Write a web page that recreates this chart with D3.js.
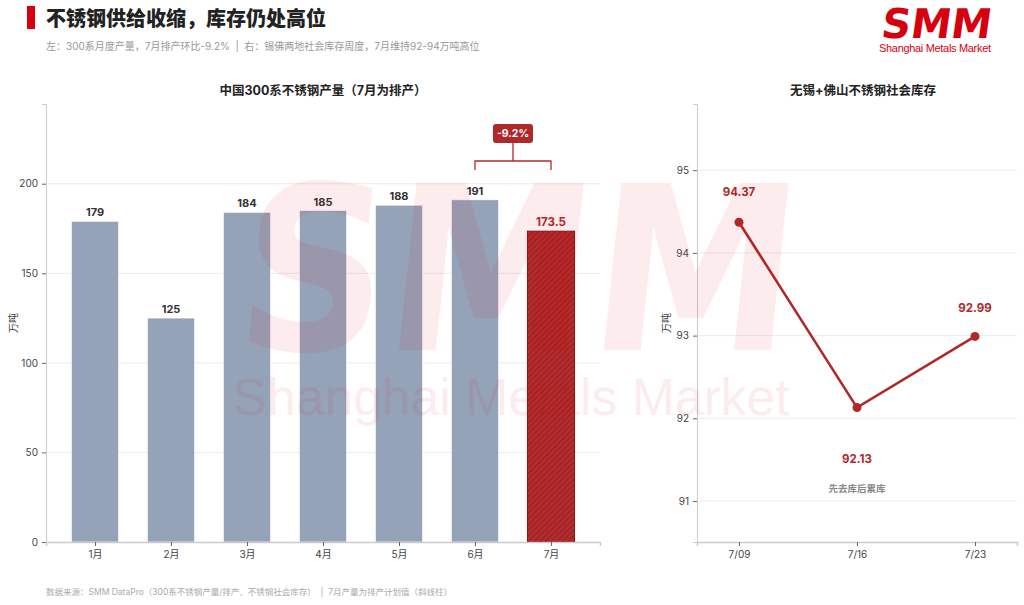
<!doctype html>
<html lang="zh">
  <head>
    <meta charset="UTF-8" />
    <title>不锈钢供给收缩，库存仍处高位</title>
    <script src="https://d3js.org/d3.v7.min.js"></script>
    <style>
      body {
        margin: 0;
        padding: 0;
        background: #ffffff;
        font-family: 'Inter', 'Noto Sans CJK SC', sans-serif;
      }
      svg text {
        font-family: 'Inter', 'Noto Sans CJK SC', sans-serif;
        white-space: pre;
      }
      .tick text {
        fill: #444;
        font-size: 10px;
      }
    </style>
  </head>
  <body>
    <div id="chart"></div>
    <script>
      // left panel: monthly 300-series output (10k t)
      const months = ['1月', '2月', '3月', '4月', '5月', '6月', '7月']
      const output = [179, 125, 184, 185, 188, 191, 173.5]
      const outputTicks = [0, 50, 100, 150, 200]

      // right panel: Wuxi + Foshan social inventory (10k t)
      const weeks = ['7/09', '7/16', '7/23']
      const inventory = [94.37, 92.13, 92.99]
      const inventoryTicks = [91, 92, 93, 94, 95]

      const W = 1024
      const H = 605
      const red = '#B0282A'

      const svg = d3.select('#chart').append('svg').attr('width', W).attr('height', H)

      const defs = svg.append('defs')
      const hatch = defs
        .append('pattern')
        .attr('id', 'hatch')
        .attr('patternUnits', 'userSpaceOnUse')
        .attr('width', 4)
        .attr('height', 4)
        .attr('patternTransform', 'rotate(45)')
      hatch.append('rect').attr('width', 4).attr('height', 4).attr('fill', '#B32B2C')
      hatch
        .append('line')
        .attr('x1', 0)
        .attr('y1', 0)
        .attr('x2', 0)
        .attr('y2', 4)
        .attr('stroke', '#7a1616')
        .attr('stroke-width', 1)

      // header
      svg.append('rect').attr('x', 27).attr('y', 6).attr('width', 8).attr('height', 23).attr('fill', '#D7000F')
      svg
        .append('text')
        .attr('x', 46)
        .attr('y', 26)
        .attr('font-size', 20)
        .attr('font-weight', 900)
        .attr('fill', '#222')
        .text('不锈钢供给收缩，库存仍处高位')
      svg
        .append('text')
        .attr('x', 46)
        .attr('y', 50)
        .attr('font-size', 10)
        .attr('fill', '#999')
        .text('左：300系月度产量，7月排产环比-9.2%  |  右：锡佛两地社会库存周度，7月维持92-94万吨高位')

      // logo
      svg
        .append('text')
        .attr('x', 935)
        .attr('y', 38)
        .attr('text-anchor', 'middle')
        .attr('font-size', 41)
        .attr('font-weight', 900)
        .attr('fill', '#D7000F')
        .attr('textLength', 110)
        .attr('lengthAdjust', 'spacingAndGlyphs')
        .attr('transform', 'translate(935,38) skewX(-8) translate(-935,-38)')
        .style('font-family', "'DejaVu Sans', sans-serif")
        .text('SMM')
      svg
        .append('text')
        .attr('x', 935)
        .attr('y', 52)
        .attr('text-anchor', 'middle')
        .attr('font-size', 11)
        .attr('fill', '#D7000F')
        .attr('textLength', 112)
        .style('font-family', "'Liberation Sans', sans-serif")
        .text('Shanghai Metals Market')

      // ---------- left: bar chart ----------
      const L = { left: 46, right: 600, top: 104, bottom: 542 }
      const xBar = d3.scaleLinear().domain([-0.645, 6.645]).range([L.left, L.right])
      const yBar = d3.scaleLinear().domain([0, 244.5]).range([L.bottom, L.top])
      const barW = xBar(0.62) - xBar(0)

      svg
        .append('text')
        .attr('x', (L.left + L.right) / 2)
        .attr('y', 95)
        .attr('text-anchor', 'middle')
        .attr('font-size', 12.5)
        .attr('font-weight', 700)
        .attr('fill', '#222')
        .text('中国300系不锈钢产量（7月为排产）')

      const gl = svg.append('g')
      gl.selectAll('.grid')
        .data(outputTicks.slice(1))
        .enter()
        .append('line')
        .attr('x1', L.left)
        .attr('x2', L.right)
        .attr('y1', (d) => yBar(d))
        .attr('y2', (d) => yBar(d))
        .attr('stroke', '#e6e6e6')
        .attr('stroke-width', 0.8)

      gl.selectAll('.bar')
        .data(output)
        .enter()
        .append('rect')
        .attr('x', (d, i) => xBar(i) - barW / 2)
        .attr('y', (d) => yBar(d))
        .attr('width', barW)
        .attr('height', (d) => yBar(0) - yBar(d))
        .attr('fill', (d, i) => (i === 6 ? 'url(#hatch)' : '#94A3B8'))
        .attr('stroke', (d, i) => (i === 6 ? '#7a1616' : '#ffffff'))
        .attr('stroke-width', (d, i) => (i === 6 ? 1 : 0.6))

      gl.selectAll('.val')
        .data(output)
        .enter()
        .append('text')
        .attr('x', (d, i) => xBar(i))
        .attr('y', (d) => yBar(d) - 5)
        .attr('text-anchor', 'middle')
        .attr('font-size', (d, i) => (i === 6 ? 11.5 : 11))
        .attr('font-weight', 700)
        .attr('fill', (d, i) => (i === 6 ? red : '#333'))
        .text((d) => d)

      gl.append('g')
        .attr('transform', `translate(${L.left},0)`)
        .call(d3.axisLeft(yBar).tickValues(outputTicks).tickSize(4).tickPadding(4))
        .call((g) => g.select('.domain').attr('stroke', '#cccccc'))
        .call((g) => g.selectAll('.tick line').attr('stroke', '#666'))

      gl.append('g')
        .attr('transform', `translate(0,${L.bottom})`)
        .call(
          d3
            .axisBottom(xBar)
            .tickValues(d3.range(months.length))
            .tickFormat((i) => months[i])
            .tickSize(4)
            .tickPadding(5)
        )
        .call((g) => g.select('.domain').attr('stroke', '#cccccc').attr('stroke-width', 1.5))
        .call((g) => g.selectAll('.tick line').attr('stroke', '#666'))

      svg
        .append('text')
        .attr('transform', `translate(17,${(L.top + L.bottom) / 2}) rotate(-90)`)
        .attr('text-anchor', 'middle')
        .attr('font-size', 10)
        .attr('fill', '#444')
        .text('万吨')

      // -9.2% bracket between June and July
      const by = 161
      const bx0 = xBar(5)
      const bx1 = xBar(6)
      const bm = (bx0 + bx1) / 2
      gl.append('path')
        .attr('d', `M${bx0},${by + 9}V${by}H${bx1}V${by + 9}M${bm},${by}V${by - 18}`)
        .attr('fill', 'none')
        .attr('stroke', red)
        .attr('stroke-width', 1.3)
      gl.append('rect')
        .attr('x', bm - 20)
        .attr('y', by - 37)
        .attr('width', 40)
        .attr('height', 19)
        .attr('rx', 3)
        .attr('fill', red)
      gl.append('text')
        .attr('x', bm)
        .attr('y', by - 24)
        .attr('text-anchor', 'middle')
        .attr('font-size', 10.5)
        .attr('font-weight', 700)
        .attr('fill', '#fff')
        .text('-9.2%')

      // ---------- right: line chart ----------
      const R = { left: 697, right: 1017, top: 104, bottom: 542 }
      const xLine = d3.scaleLinear().domain([-0.356, 2.356]).range([R.left, R.right])
      const yLine = d3.scaleLinear().domain([90.505, 95.8]).range([R.bottom, R.top])

      svg
        .append('text')
        .attr('x', (R.left + R.right) / 2 + 6)
        .attr('y', 95)
        .attr('text-anchor', 'middle')
        .attr('font-size', 12.5)
        .attr('font-weight', 700)
        .attr('fill', '#222')
        .text('无锡+佛山不锈钢社会库存')

      const gr = svg.append('g')
      gr.selectAll('.grid')
        .data(inventoryTicks)
        .enter()
        .append('line')
        .attr('x1', R.left)
        .attr('x2', R.right)
        .attr('y1', (d) => yLine(d))
        .attr('y2', (d) => yLine(d))
        .attr('stroke', '#e6e6e6')
        .attr('stroke-width', 0.8)

      gr.append('g')
        .attr('transform', `translate(${R.left},0)`)
        .call(
          d3.axisLeft(yLine).tickValues(inventoryTicks).tickFormat(d3.format('d')).tickSize(4).tickPadding(4)
        )
        .call((g) => g.select('.domain').attr('stroke', '#cccccc'))
        .call((g) => g.selectAll('.tick line').attr('stroke', '#666'))

      gr.append('g')
        .attr('transform', `translate(0,${R.bottom})`)
        .call(
          d3
            .axisBottom(xLine)
            .tickValues(d3.range(weeks.length))
            .tickFormat((i) => weeks[i])
            .tickSize(4)
            .tickPadding(5)
        )
        .call((g) => g.select('.domain').attr('stroke', '#cccccc').attr('stroke-width', 1.5))
        .call((g) => g.selectAll('.tick line').attr('stroke', '#666'))

      svg
        .append('text')
        .attr('transform', `translate(670,${(R.top + R.bottom) / 2}) rotate(-90)`)
        .attr('text-anchor', 'middle')
        .attr('font-size', 10)
        .attr('fill', '#444')
        .text('万吨')

      const line = d3
        .line()
        .x((d, i) => xLine(i))
        .y((d) => yLine(d))
      gr.append('path')
        .attr('d', line(inventory))
        .attr('fill', 'none')
        .attr('stroke', red)
        .attr('stroke-width', 2.6)
      gr.selectAll('.dot')
        .data(inventory)
        .enter()
        .append('circle')
        .attr('cx', (d, i) => xLine(i))
        .attr('cy', (d) => yLine(d))
        .attr('r', 4.5)
        .attr('fill', red)

      // label offsets: above for peaks, below for the trough
      const labelDy = [-26, 55, -24]
      gr.selectAll('.lab')
        .data(inventory)
        .enter()
        .append('text')
        .attr('x', (d, i) => xLine(i))
        .attr('y', (d, i) => yLine(d) + labelDy[i])
        .attr('text-anchor', 'middle')
        .attr('font-size', 11.5)
        .attr('font-weight', 700)
        .attr('fill', red)
        .text((d) => d.toFixed(2))

      gr.append('text')
        .attr('x', xLine(1))
        .attr('y', 492)
        .attr('text-anchor', 'middle')
        .attr('font-size', 9.5)
        .attr('font-weight', 700)
        .attr('fill', '#888')
        .text('先去库后累库')

      // watermark
      const wm = svg.append('g').attr('pointer-events', 'none').attr('fill', '#E60012').attr('opacity', 0.07)
      wm.append('text')
        .attr('x', 511)
        .attr('y', 350)
        .attr('text-anchor', 'middle')
        .attr('font-size', 229)
        .attr('font-weight', 900)
        .attr('textLength', 558)
        .attr('lengthAdjust', 'spacingAndGlyphs')
        .attr('transform', 'translate(511,350) skewX(-6) translate(-511,-350)')
        .style('font-family', "'DejaVu Sans', sans-serif")
        .text('SMM')
      wm.append('text')
        .attr('x', 511)
        .attr('y', 415)
        .attr('text-anchor', 'middle')
        .attr('font-size', 52)
        .attr('textLength', 557)
        .attr('lengthAdjust', 'spacingAndGlyphs')
        .style('font-family', "'Liberation Sans', sans-serif")
        .text('Shanghai Metals Market')

      // footer
      svg
        .append('text')
        .attr('x', 46)
        .attr('y', 595)
        .attr('font-size', 8.5)
        .attr('fill', '#aaa')
        .text('数据来源：SMM DataPro（300系不锈钢产量/排产、不锈钢社会库存）  |  7月产量为排产计划值（斜线柱）')
    </script>
  </body>
</html>
